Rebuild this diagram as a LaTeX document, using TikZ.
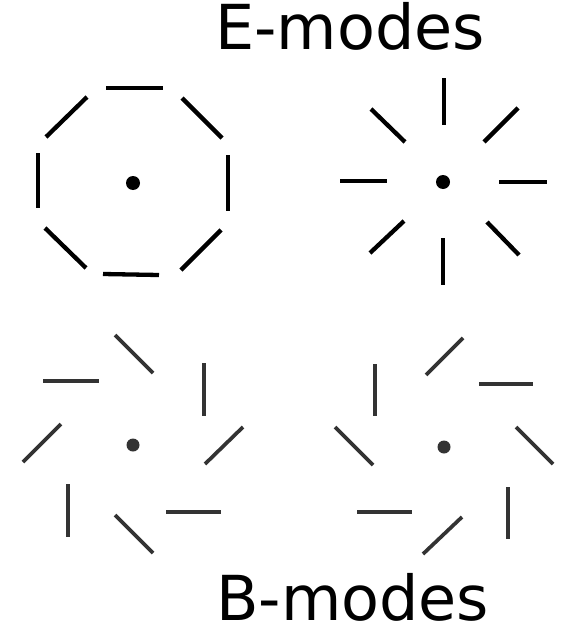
\documentclass[tikz,border=0pt]{standalone}
\usepackage{fontspec}
\setmainfont{DejaVu Sans}
\begin{document}
\begin{tikzpicture}[x=1pt,y=-1pt,
  edash/.style={line width=4.3pt,black},
  bdash/.style={line width=3.7pt,black!80},
  edot/.style={circle,fill=black,inner sep=0pt,minimum size=14pt},
  bdot/.style={circle,fill=black!80,inner sep=0pt,minimum size=13pt},
  title/.style={font=\fontsize{62}{72}\selectfont,anchor=base west,inner sep=0pt,text depth=0pt}]
\useasboundingbox (0,0) rectangle (560,626);
\fill[white] (0,0) rectangle (560,626);
% titles
\node[title] (etitle) at (215,50) {E-modes};
\node[title] (btitle) at (216,620) {B-modes};
% E-modes, tangential
\node[edot] (c1) at (133,183) {};
\draw[edash] (106,88) -- (163,88);
\draw[edash] (103,274) -- (159,275);
\draw[edash] (38,153) -- (38,208);
\draw[edash] (228,155) -- (228,211);
\draw[edash] (46,137) -- (87,97);
\draw[edash] (182,98) -- (222,138);
\draw[edash] (45,228) -- (86,268);
\draw[edash] (181,270) -- (221,230);
% E-modes, radial
\node[edot] (c2) at (443,182) {};
\draw[edash] (444,78) -- (444,125);
\draw[edash] (443,238) -- (443,285);
\draw[edash] (340,181) -- (387,181);
\draw[edash] (499,182) -- (547,182);
\draw[edash] (371,109) -- (405,142);
\draw[edash] (484,142) -- (518,108);
\draw[edash] (370,253) -- (404,221);
\draw[edash] (487,222) -- (519,255);
% B-modes, left
\node[bdot] (c3) at (133,445) {};
\draw[bdash] (115,335) -- (153,373);
\draw[bdash] (43,381) -- (99,381);
\draw[bdash] (204,363) -- (204,416);
\draw[bdash] (23,462) -- (61,424);
\draw[bdash] (205,464) -- (243,427);
\draw[bdash] (68,484) -- (68,537);
\draw[bdash] (166,512) -- (221,512);
\draw[bdash] (115,515) -- (153,553);
% B-modes, right
\node[bdot] (c4) at (444,447) {};
\draw[bdash] (426,375) -- (463,338);
\draw[bdash] (375,364) -- (375,416);
\draw[bdash] (479,384) -- (533,384);
\draw[bdash] (335,427) -- (373,465);
\draw[bdash] (516,427) -- (553,464);
\draw[bdash] (357,512) -- (412,512);
\draw[bdash] (423,554) -- (462,517);
\draw[bdash] (508,487) -- (508,539);
\end{tikzpicture}
\end{document}
